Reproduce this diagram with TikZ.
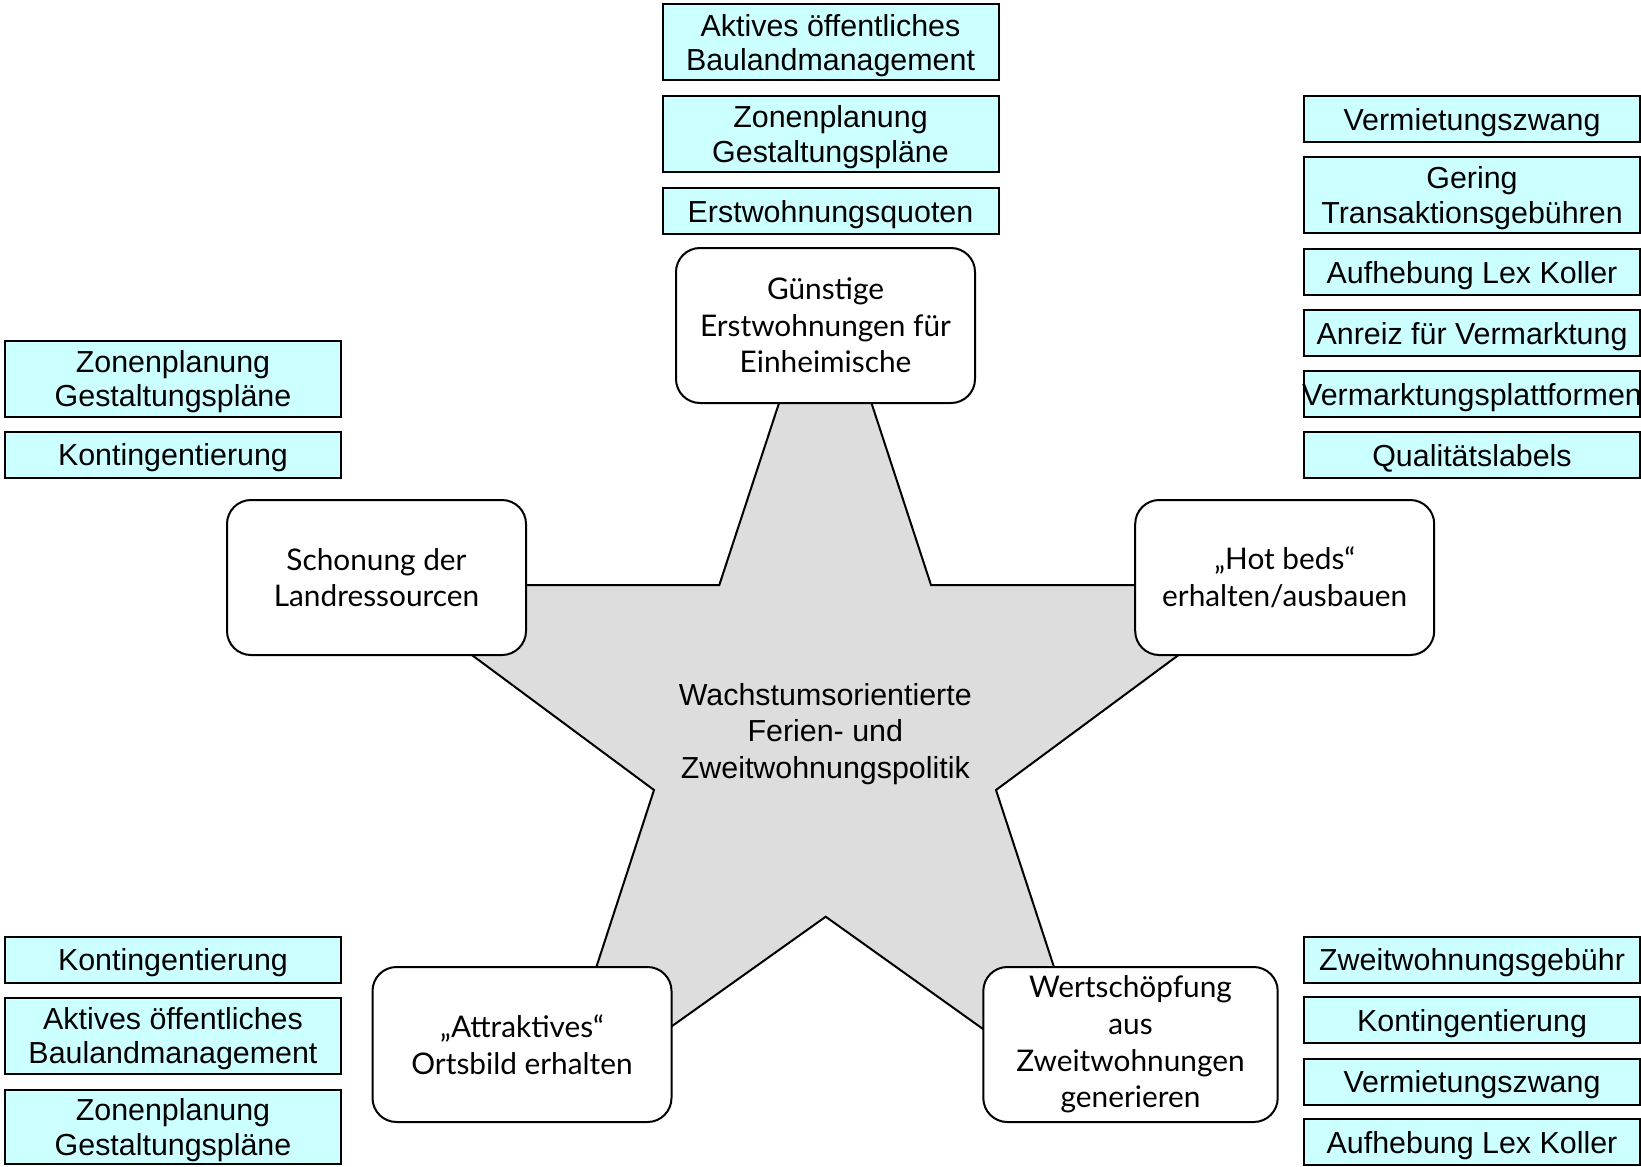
\documentclass[tikz,border=0pt]{standalone}
\usepackage{fontspec}
\setmainfont{Lato}
\newfontfamily\arialfont{Liberation Sans}
\definecolor{cyanbox}{HTML}{CCFFFF}
\definecolor{stargrey}{HTML}{DDDDDD}
\tikzset{
  cbox/.style={draw=black, line width=1pt, fill=cyanbox, inner sep=0pt,
    font=\arialfont\fontsize{15.2}{17.3}\selectfont, align=center,
    minimum width=168pt, text depth=0pt},
  onel/.style={cbox, minimum height=23pt},
  twol/.style={cbox, minimum height=38pt},
  rbox/.style={draw=black, line width=1pt, fill=white, rounded corners=12pt,
    inner sep=0pt, font=\fontsize{14.9}{18.3}\selectfont, align=center,
    minimum width=149.5pt, minimum height=77.5pt},
  starshape/.style={draw=black, line width=1pt, fill=stargrey, line join=miter},
  ctext/.style={font=\arialfont\fontsize{15.2}{18.3}\selectfont, align=center}
}
\begin{document}
\begin{tikzpicture}[x=0.5pt, y=-0.5pt]
\useasboundingbox (0,0) rectangle (1641,1166);
% star
\draw[starshape] (825.3,262) -- (931,585) -- (1273.2,585) -- (996,790)
  -- (1102.1,1114) -- (825.7,916.7) -- (548.5,1114) -- (654,790)
  -- (377.4,585) -- (719.3,585) -- cycle;
\node[ctext] (center) at (825.3,734) {Wachstumsorientierte\\Ferien- und\\Zweitwohnungspolitik};
% goal boxes
\node[rbox] (g) at (825.5,325.5) {Günstige\\Erstwohnungen für\\Einheimische};
\node[rbox] (s) at (376.5,577.5) {Schonung der\\Landressourcen};
\node[rbox] (h) at (1284.7,577.5) {„Hot beds“\\erhalten/ausbauen};
\node[rbox] (a) at (522,1044.5) {„Attraktives“\\Ortsbild erhalten};
\node[rbox, minimum width=147.2pt] (w) at (1130.5,1044.5) {Wertschöpfung\\aus\\Zweitwohnungen\\generieren};
% top measures
\node[twol] (t1) at (830.5,42.5) {Aktives öffentliches\\Baulandmanagement};
\node[twol] (t2) at (830.5,134) {Zonenplanung\\Gestaltungspläne};
\node[onel] (t3) at (830.5,211) {Erstwohnungsquoten};
% right measures
\node[onel] (r1) at (1472,119) {Vermietungszwang};
\node[twol] (r2) at (1472,195) {Gering\\Transaktionsgebühren};
\node[onel] (r3) at (1472,272) {Aufhebung Lex Koller};
\node[onel] (r4) at (1472,333) {Anreiz für Vermarktung};
\node[onel] (r5) at (1472,394) {\makebox[0pt][c]{Vermarktungsplattformen}};
\node[onel] (r6) at (1472,455) {Qualitätslabels};
% left top measures
\node[twol] (l1) at (173,378.5) {Zonenplanung\\Gestaltungspläne};
\node[onel] (l2) at (173,454.5) {Kontingentierung};
% bottom left measures
\node[onel] (bl1) at (173,959.5) {Kontingentierung};
\node[twol] (bl2) at (173,1035.5) {Aktives öffentliches\\Baulandmanagement};
\node[twol, minimum height=37pt] (bl3) at (173,1126.8) {Zonenplanung\\Gestaltungspläne};
% bottom right measures
\node[onel] (br1) at (1472,959.5) {Zweitwohnungsgebühr};
\node[onel] (br2) at (1472,1020) {Kontingentierung};
\node[onel] (br3) at (1472,1081.5) {Vermietungszwang};
\node[onel] (br4) at (1472,1142) {Aufhebung Lex Koller};
\end{tikzpicture}
\end{document}
